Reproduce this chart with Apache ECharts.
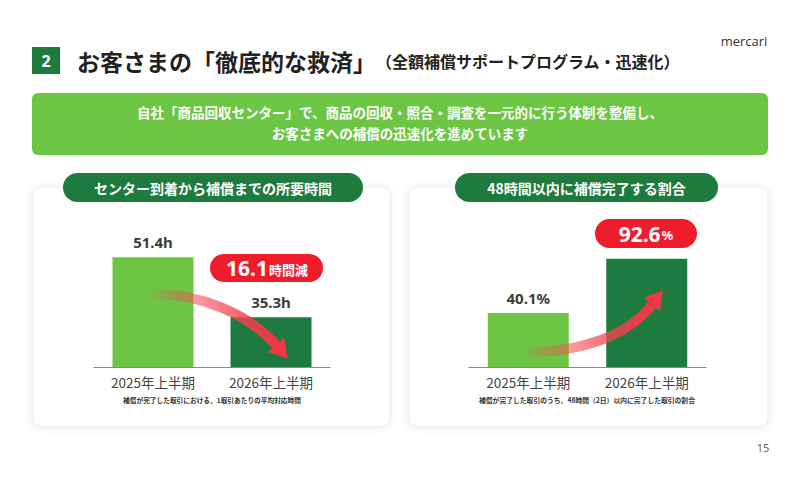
<!DOCTYPE html>
<html><head><meta charset="utf-8">
<script src="https://cdn.jsdelivr.net/npm/echarts@6/dist/echarts.min.js"></script>
<style>html,body{margin:0;padding:0;background:#fff}#c{width:800px;height:478px}</style>
</head><body><div id="c"></div>
<script>
// ---- data ----
const categories = ['2025年上半期', '2026年上半期'];
const hoursValues = [51.4, 35.3];          // センター到着から補償までの所要時間 (h)
const shareValues = [40.1, 92.6];          // 48時間以内に補償完了する割合 (%)
const hoursLabels = ['51.4h', '35.3h'];
const shareLabels = ['40.1%', '92.6%'];
const hoursReduction = (hoursValues[0] - hoursValues[1]).toFixed(1); // 16.1

const CJK = '"Noto Sans CJK JP","Noto Sans",sans-serif';
const LIGHT = '#6cc644', DARK = '#1e7b40', RED = '#ef1c2c';
const barColors = [LIGHT, DARK];
const HOURS_MIN = 22, SHARE_MIN = -12;

function makeRender(minVal, labels, show) {
  return function (params, api) {
    const i = api.value(0);
    const top = api.coord([i, api.value(1)]);
    const base = api.coord([i, minVal]);
    const w = 81;
    const children = [{
      type: 'rect',
      shape: { x: top[0] - w / 2, y: top[1], width: w, height: base[1] - top[1] },
      style: { fill: barColors[params.dataIndex] }
    }];
    if (show[params.dataIndex]) {
      children.push({
        type: 'text', x: top[0], y: top[1] - 15,
        style: { text: labels[params.dataIndex], fill: '#3c3c3c', fontSize: 15, fontWeight: 'bold',
                 fontFamily: '"Noto Sans",sans-serif', align: 'center', verticalAlign: 'middle' }
      });
    }
    return { type: 'group', children };
  };
}

const grad = (stops) => new echarts.graphic.LinearGradient(0, 0, 1, 0, stops);

const chart = echarts.init(document.getElementById('c'), null, { renderer: 'svg' });
const axisX = (gi) => ({
  type: 'category', gridIndex: gi, data: categories,
  axisLine: { onZero: false, lineStyle: { color: '#8a8a8a', width: 1 } },
  axisTick: { show: false },
  axisLabel: { color: '#444', fontSize: 13.5, margin: 8, fontFamily: CJK }
});

chart.setOption({
  animation: false,
  backgroundColor: '#ffffff',
  grid: [
    { left: 94, width: 236, top: 225, height: 142 },
    { left: 469, width: 237, top: 251, height: 116 }
  ],
  xAxis: [axisX(0), axisX(1)],
  yAxis: [
    { type: 'value', gridIndex: 0, min: HOURS_MIN, max: 60, show: false },
    { type: 'value', gridIndex: 1, min: SHARE_MIN, max: 100, show: false }
  ],
  series: [
    { type: 'custom', xAxisIndex: 0, yAxisIndex: 0, clip: false, z: 2,
      encode: { x: 0, y: 1 },
      data: hoursValues.map((v, i) => [i, v]),
      renderItem: makeRender(HOURS_MIN, hoursLabels, [true, true]) },
    { type: 'custom', xAxisIndex: 1, yAxisIndex: 1, clip: false, z: 2,
      encode: { x: 0, y: 1 },
      data: shareValues.map((v, i) => [i, v]),
      renderItem: makeRender(SHARE_MIN, shareLabels, [true, false]) }
  ],
  graphic: [
    // header
    { type: 'rect', shape: { x: 32, y: 47, width: 28, height: 27 }, style: { fill: '#1e7b3e' } },
    { type: 'text', x: 46, y: 61, style: { text: '2', fill: '#fff', fontSize: 16, fontWeight: 'bold',
      fontFamily: '"Noto Sans",sans-serif', align: 'center', verticalAlign: 'middle' } },
    { type: 'text', x: 77, y: 61, style: {
      text: '{a|お客さまの「徹底的な救済」}{b|（全額補償サポートプログラム・迅速化）}',
      verticalAlign: 'middle', align: 'left',
      rich: {
        a: { fontSize: 23, fontWeight: 'bold', fill: '#222', fontFamily: CJK },
        b: { fontSize: 16, fontWeight: 'bold', fill: '#222', fontFamily: CJK }
      } } },
    { type: 'text', x: 744, y: 41, style: { text: 'mercari', fill: '#333', fontSize: 13,
      fontFamily: '"Open Sans",sans-serif', align: 'center', verticalAlign: 'middle' } },
    // banner
    { type: 'rect', shape: { x: 32, y: 93, width: 736, height: 62, r: 6 }, style: { fill: LIGHT } },
    { type: 'text', x: 400, y: 112, style: { text: '自社「商品回収センター」で、商品の回収・照合・調査を一元的に行う体制を整備し、',
      fill: '#fff', fontSize: 13.5, fontWeight: 'bold', fontFamily: CJK, align: 'center', verticalAlign: 'middle' } },
    { type: 'text', x: 400, y: 133, style: { text: 'お客さまへの補償の迅速化を進めています',
      fill: '#fff', fontSize: 13.5, fontWeight: 'bold', fontFamily: CJK, align: 'center', verticalAlign: 'middle' } },
    // cards
    { type: 'rect', z: -1, shape: { x: 33, y: 187, width: 357, height: 239, r: 8 },
      style: { fill: '#fff', stroke: '#ececec', lineWidth: 1, shadowBlur: 8, shadowColor: 'rgba(0,0,0,0.10)', shadowOffsetY: 1 } },
    { type: 'rect', z: -1, shape: { x: 409, y: 187, width: 359, height: 239, r: 8 },
      style: { fill: '#fff', stroke: '#ececec', lineWidth: 1, shadowBlur: 8, shadowColor: 'rgba(0,0,0,0.10)', shadowOffsetY: 1 } },
    // card titles
    { type: 'rect', shape: { x: 63, y: 173, width: 300, height: 29, r: 14.5 }, style: { fill: '#1f7a3e' } },
    { type: 'text', x: 213, y: 188, style: { text: 'センター到着から補償までの所要時間', fill: '#fff', fontSize: 14,
      fontWeight: 'bold', fontFamily: CJK, align: 'center', verticalAlign: 'middle' } },
    { type: 'rect', shape: { x: 455, y: 173, width: 263, height: 29, r: 14.5 }, style: { fill: '#1f7a3e' } },
    { type: 'text', x: 586.5, y: 188, style: { text: '48時間以内に補償完了する割合', fill: '#fff', fontSize: 14,
      fontWeight: 'bold', fontFamily: CJK, align: 'center', verticalAlign: 'middle' } },
    // arrows
    { type: 'bezierCurve', z: 10,
      shape: { x1: 146, y1: 294, cpx1: 200, cpy1: 292, cpx2: 250, cpy2: 315, x2: 277, y2: 346 },
      style: { fill: 'none', lineWidth: 10, stroke: grad([
        { offset: 0, color: 'rgba(240,60,70,0)' },
        { offset: 0.35, color: 'rgba(244,80,90,0.55)' },
        { offset: 1, color: 'rgba(240,55,68,1)' }]) } },
    { type: 'polygon', z: 10, shape: { points: [[287.5, 358.5], [267.8, 352], [284.2, 338]] },
      style: { fill: 'rgb(240,55,68)' } },
    { type: 'bezierCurve', z: 10,
      shape: { x1: 520, y1: 352, cpx1: 580, cpy1: 354, cpx2: 628, cpy2: 335, x2: 652, y2: 305 },
      style: { fill: 'none', lineWidth: 10, stroke: grad([
        { offset: 0, color: 'rgba(240,60,70,0)' },
        { offset: 0.35, color: 'rgba(244,80,90,0.55)' },
        { offset: 1, color: 'rgba(240,55,68,1)' }]) } },
    { type: 'polygon', z: 10, shape: { points: [[663, 290.5], [644, 297.5], [660, 311]] },
      style: { fill: 'rgb(240,55,68)' } },
    // red callouts
    { type: 'rect', z: 10, shape: { x: 210, y: 254, width: 113, height: 28, r: 14 }, style: { fill: RED } },
    { type: 'text', z: 11, x: 267, y: 268, style: {
      text: '{a|' + hoursReduction + '}{b|時間減}', align: 'center', verticalAlign: 'middle',
      rich: { a: { fontSize: 21, fontWeight: 'bold', fill: '#fff', fontFamily: '"Noto Sans",sans-serif' },
              b: { fontSize: 13, fontWeight: 'bold', fill: '#fff', fontFamily: CJK, padding: [3, 0, 0, 1] } } } },
    { type: 'rect', z: 10, shape: { x: 595, y: 219, width: 102, height: 29, r: 14.5 }, style: { fill: RED } },
    { type: 'text', z: 11, x: 646, y: 233.5, style: {
      text: '{a|' + shareValues[1].toFixed(1) + '}{b|%}', align: 'center', verticalAlign: 'middle',
      rich: { a: { fontSize: 21, fontWeight: 'bold', fill: '#fff', fontFamily: '"Noto Sans",sans-serif' },
              b: { fontSize: 13, fontWeight: 'bold', fill: '#fff', fontFamily: '"Noto Sans",sans-serif', padding: [3, 0, 0, 1] } } } },
    // footnotes
    { type: 'text', x: 212, y: 400, style: { text: '補償が完了した取引における、1取引あたりの平均対応時間',
      fill: '#333', fontSize: 6.7, fontWeight: 'bold', fontFamily: CJK, align: 'center', verticalAlign: 'middle' } },
    { type: 'text', x: 587, y: 400, style: { text: '補償が完了した取引のうち、48時間（2日）以内に完了した取引の割合',
      fill: '#333', fontSize: 6.8, fontWeight: 'bold', fontFamily: CJK, align: 'center', verticalAlign: 'middle' } },
    // page number
    { type: 'text', x: 763, y: 447, style: { text: '15', fill: '#666', fontSize: 11,
      fontFamily: '"Noto Sans",sans-serif', align: 'center', verticalAlign: 'middle' } }
  ]
});
</script>
</body></html>
